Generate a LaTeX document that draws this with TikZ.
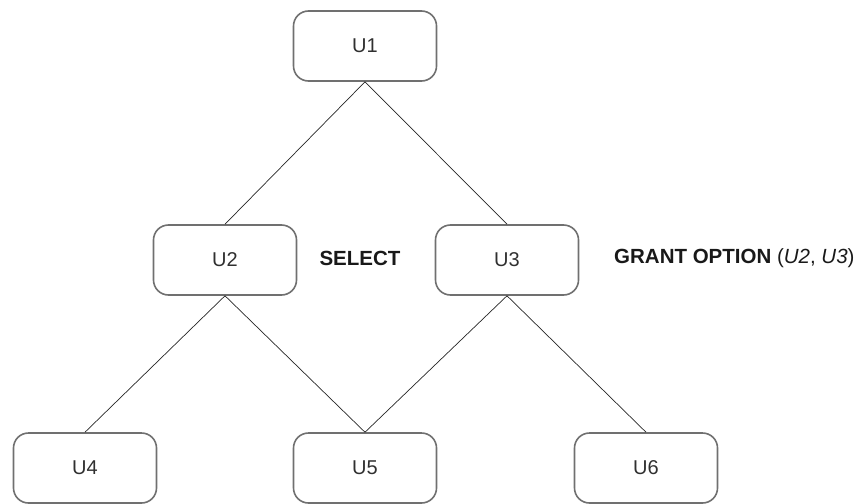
\documentclass[tikz,border=0pt]{standalone}
\usepackage{fontspec}
\setmainfont{Liberation Sans}
\definecolor{boxgray}{HTML}{707070}
\definecolor{txtgray}{HTML}{303030}
\begin{document}
\begin{tikzpicture}[x=1pt,y=-1pt,
  ubox/.style={draw=boxgray, line width=1.6pt, rounded corners=15pt,
    minimum width=143pt, minimum height=70pt, inner sep=0pt,
    font=\fontsize{20}{22}\selectfont, text=txtgray},
  lbl/.style={font=\bfseries\fontsize{20.5}{23}\selectfont, inner sep=0pt, text=black!90},
  conn/.style={draw=black!85, line width=0.7pt}]
\useasboundingbox (0,0) rectangle (861,503);
\node[ubox] (u1) at (365,46) {U1};
\node[ubox] (u2) at (225,260) {U2};
\node[ubox] (u3) at (507,260) {U3};
\node[ubox] (u4) at (85,468) {U4};
\node[ubox] (u5) at (365,468) {U5};
\node[ubox] (u6) at (646,468) {U6};
\node[lbl] (sel) at (360,258) {SELECT};
\node[lbl, anchor=west] (grant) at (614,258) {GRANT OPTION \mdseries(\textit{U2}, \textit{U3})};
\draw[conn] (u1.south) -- (u2.north);
\draw[conn] (u1.south) -- (u3.north);
\draw[conn] (u2.south) -- (u4.north);
\draw[conn] (u2.south) -- (u5.north);
\draw[conn] (u3.south) -- (u5.north);
\draw[conn] (u3.south) -- (u6.north);
\end{tikzpicture}
\end{document}
